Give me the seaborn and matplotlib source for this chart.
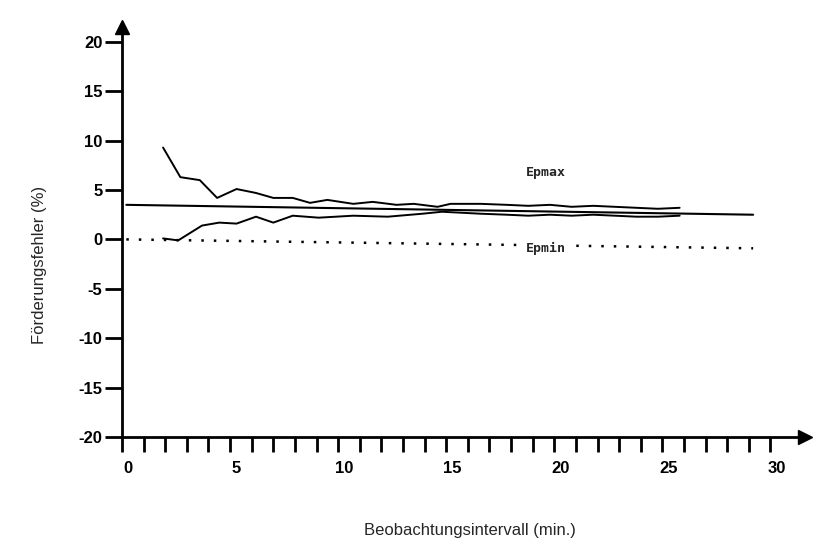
import numpy as np
import pandas as pd
import matplotlib
matplotlib.use("Agg")
import matplotlib.pyplot as plt
import matplotlib.transforms as mtransforms
import seaborn as sns

sns.set_style("ticks")
plt.rcParams['font.family'] = ['Liberation Sans', 'DejaVu Sans']
plt.rcParams['axes.unicode_minus'] = False

# Epmax curve (upper bound of the error)
upper_x = [1.9, 2.7, 3.6, 4.4, 5.3, 6.2, 7.0, 7.9, 8.7, 9.5, 10.7, 11.6, 12.7, 13.5,
           14.6, 15.2, 16.6, 17.8, 18.8, 19.8, 20.8, 21.8, 22.8, 23.8, 24.8, 25.8]
upper_y = [9.3, 6.3, 6.0, 4.2, 5.1, 4.7, 4.2, 4.2, 3.7, 4.0, 3.6, 3.8, 3.5, 3.6,
           3.3, 3.6, 3.6, 3.5, 3.4, 3.5, 3.3, 3.4, 3.3, 3.2, 3.1, 3.2]

# Epmin curve (lower bound of the error)
lower_x = [1.9, 2.6, 3.7, 4.5, 5.3, 6.2, 7.0, 7.9, 9.1, 10.7, 12.3, 13.9, 14.8,
           16.6, 17.8, 18.8, 19.8, 20.8, 21.8, 22.8, 23.8, 24.8, 25.8]
lower_y = [0.1, -0.1, 1.4, 1.7, 1.6, 2.3, 1.7, 2.4, 2.2, 2.4, 2.3, 2.6, 2.8,
           2.6, 2.5, 2.4, 2.5, 2.4, 2.5, 2.4, 2.3, 2.3, 2.4]

# straight mean line and dotted reference line
mean_x = [0.2, 29.2]
mean_y = [3.5, 2.5]
ref_x = [0.2, 29.2]
ref_y = [0, -0.9]

upper = pd.DataFrame({'x': upper_x, 'y': upper_y})
lower = pd.DataFrame({'x': lower_x, 'y': lower_y})

fig = plt.figure(figsize=(8.19, 5.45), dpi=100)
ax = fig.add_axes([122 / 819, 1 - 437 / 545, 683 / 819, 410 / 545])

sns.lineplot(data=upper, x='x', y='y', color='black', lw=1.4, sort=False, estimator=None, ax=ax)
sns.lineplot(data=lower, x='x', y='y', color='black', lw=1.4, sort=False, estimator=None, ax=ax)
sns.lineplot(x=mean_x, y=mean_y, color='black', lw=1.5, ax=ax)
ax.plot(ref_x, ref_y, color='black', lw=1.8, linestyle=(0, (1, 4)))

ax.text(19.6, 6.8, 'Epmax', fontsize=9.5, family='DejaVu Sans Mono', weight='bold',
        ha='center', va='center')
ax.text(19.6, -0.9, 'Epmin', fontsize=9.5, family='DejaVu Sans Mono', weight='bold',
        ha='center', va='center', bbox=dict(facecolor='white', edgecolor='none', pad=1))

ax.set_xlim(0, 31.6)
ax.set_ylim(-20, 21.5)
ax.set_xticks(np.arange(0, 31, 5))
ax.set_xticks(np.arange(1, 31, 1), minor=True)
ax.set_yticks(np.arange(-20, 21, 5))

for side in ['top', 'right']:
    ax.spines[side].set_visible(False)
for side in ['left', 'bottom']:
    ax.spines[side].set_linewidth(2)
    ax.spines[side].set_color('black')

ax.tick_params(axis='x', which='both', direction='out', length=11, width=2, pad=6,
               labelsize=12, colors='black')
ax.tick_params(axis='y', direction='out', length=12, width=2, pad=2, labelsize=12, colors='black')
shift = mtransforms.ScaledTranslation(6 / 100, 0, fig.dpi_scale_trans)
for lab in ax.get_xticklabels():
    lab.set_fontweight('bold')
    lab.set_transform(lab.get_transform() + shift)
for lab in ax.get_yticklabels():
    lab.set_fontweight('bold')

# arrow heads at the end of both axes
ax.plot(1, 0, '>k', ms=10, transform=ax.transAxes, clip_on=False)
ax.plot(0, 1, '^k', ms=10, transform=ax.transAxes, clip_on=False)

ax.set_xlabel('Beobachtungsintervall (min.)', fontsize=12)
ax.xaxis.set_label_coords(0.51, -0.21)
ax.set_ylabel('Förderungsfehler (%)', fontsize=12)
ax.yaxis.set_label_coords(-0.11, 0.42)

fig.savefig('out.png', dpi=100, facecolor='white')
